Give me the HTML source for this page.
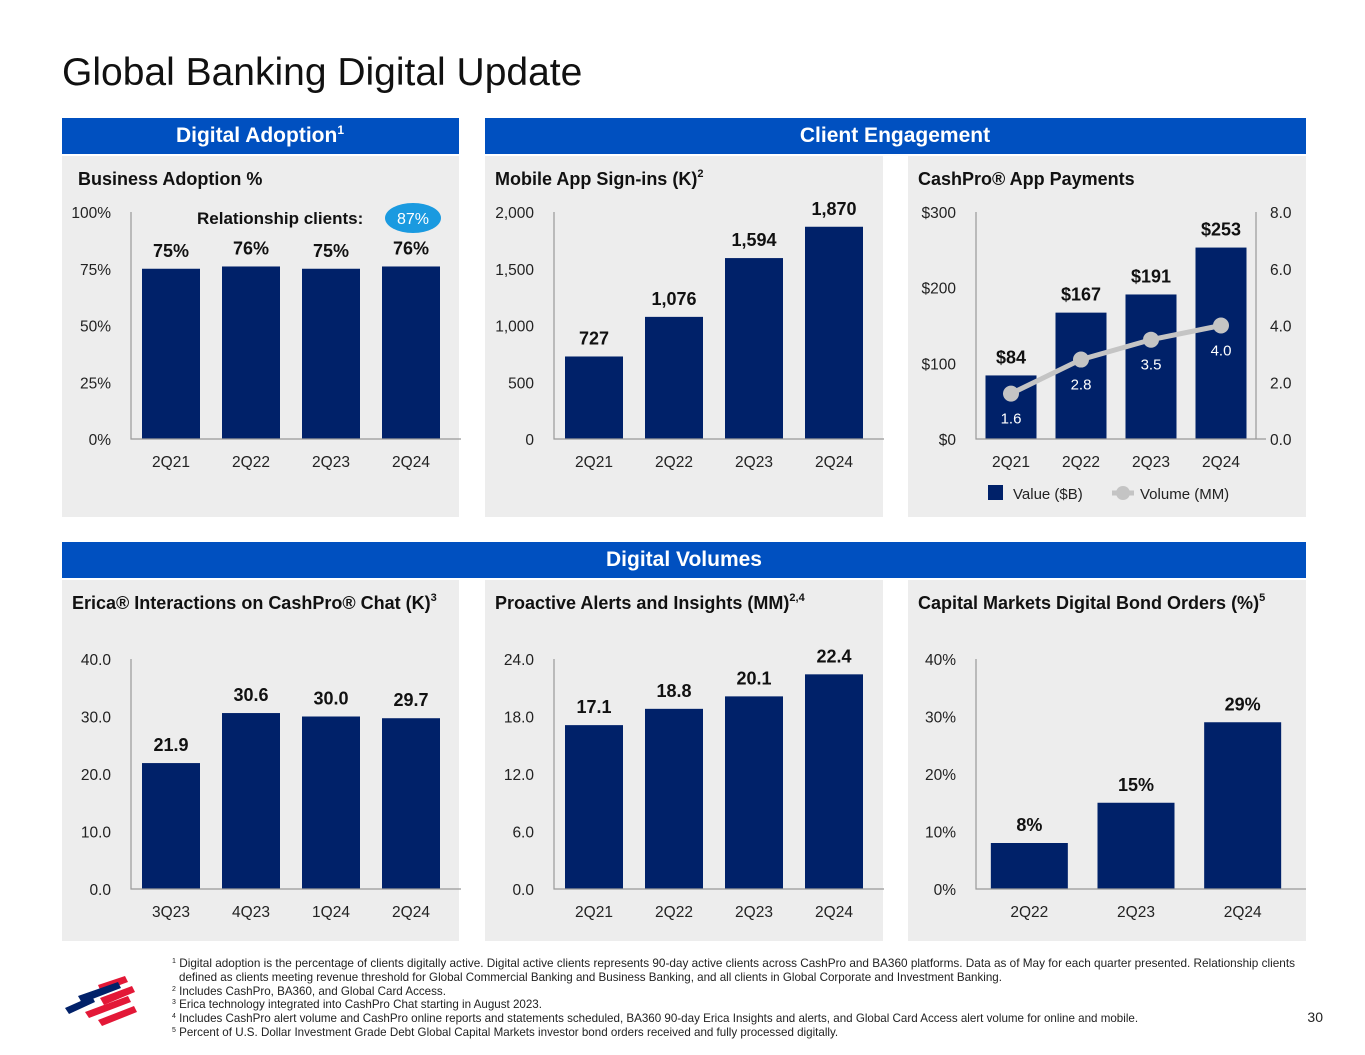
<!DOCTYPE html>
<html><head><meta charset="utf-8"><style>
html,body{margin:0;padding:0;background:#fff;}
svg{display:block;font-family:"Liberation Sans",sans-serif;}
</style></head><body>
<svg id="s" width="1365" height="1055" viewBox="0 0 1365 1055">
<text x="62" y="85" font-size="39" fill="#111">Global Banking Digital Update</text>
<rect x="62" y="118" width="397" height="36" fill="#0050c0"/>
<text x="260" y="142" font-size="21" font-weight="bold" fill="#fff" text-anchor="middle">Digital Adoption<tspan font-size="12" dy="-8">1</tspan></text>
<rect x="485" y="118" width="821" height="36" fill="#0050c0"/>
<text x="895" y="142" font-size="21" font-weight="bold" fill="#fff" text-anchor="middle">Client Engagement</text>
<rect x="62" y="542" width="1244" height="36" fill="#0050c0"/>
<text x="684" y="566" font-size="21" font-weight="bold" fill="#fff" text-anchor="middle">Digital Volumes</text>
<rect x="62" y="156" width="397" height="361" fill="#ededed"/>
<rect x="485" y="156" width="398" height="361" fill="#ededed"/>
<rect x="908" y="156" width="398" height="361" fill="#ededed"/>
<rect x="62" y="580" width="397" height="361" fill="#ededed"/>
<rect x="485" y="580" width="398" height="361" fill="#ededed"/>
<rect x="908" y="580" width="398" height="361" fill="#ededed"/>
<g font-size="18" font-weight="bold" fill="#111">
<text x="78" y="185">Business Adoption %</text>
<text x="495" y="185">Mobile App Sign-ins (K)<tspan font-size="11" dy="-8">2</tspan></text>
<text x="918" y="185">CashPro® App Payments</text>
<text x="72" y="609">Erica® Interactions on CashPro® Chat (K)<tspan font-size="11" dy="-8">3</tspan></text>
<text x="495" y="609">Proactive Alerts and Insights (MM)<tspan font-size="11" dy="-8">2,4</tspan></text>
<text x="918" y="609">Capital Markets Digital Bond Orders (%)<tspan font-size="11" dy="-8">5</tspan></text>
</g>
<text x="197" y="224" font-size="17" font-weight="bold" fill="#111">Relationship clients:</text>
<ellipse cx="413" cy="218" rx="28" ry="15" fill="#1a9ae0"/>
<text x="413" y="224" font-size="16" fill="#fff" text-anchor="middle">87%</text>
<g id="charts"></g>
<rect x="988" y="485" width="15" height="15" fill="#002169"/>
<text x="1013" y="499" font-size="15" fill="#222">Value ($B)</text>
<line x1="1112" y1="493" x2="1134" y2="493" stroke="#c4c4c4" stroke-width="5"/>
<circle cx="1123" cy="493" r="7" fill="#c4c4c4"/>
<text x="1140" y="499" font-size="15" fill="#222">Volume (MM)</text>
<g>
<path d="M98 985 L125 976 L128 982 L101 992Z" fill="#e31837"/>
<path d="M78 996 L118 982 L121 988 L82 1003Z" fill="#012169"/>
<path d="M65 1008 L92 996 L95 1002 L69 1014Z" fill="#012169"/>
<path d="M100 998 L132 986 L135 992 L104 1005Z" fill="#e31837"/>
<path d="M85 1012 L128 996 L131 1002 L89 1018Z" fill="#e31837"/>
<path d="M98 1020 L134 1006 L137 1012 L102 1026Z" fill="#e31837"/>
</g>
<g font-size="11.6" fill="#222">
<text x="172" y="967" textLength="1123" lengthAdjust="spacingAndGlyphs"><tspan font-size="7" dy="-4">1</tspan><tspan dy="4"> Digital adoption is the percentage of clients digitally active. Digital active clients represents 90-day active clients across CashPro and BA360 platforms. Data as of May for each quarter presented. Relationship clients</tspan></text>
<text x="179" y="981">defined as clients meeting revenue threshold for Global Commercial Banking and Business Banking, and all clients in Global Corporate and Investment Banking.</text>
<text x="172" y="995"><tspan font-size="7" dy="-4">2</tspan><tspan dy="4"> Includes CashPro, BA360, and Global Card Access.</tspan></text>
<text x="172" y="1008"><tspan font-size="7" dy="-4">3</tspan><tspan dy="4"> Erica technology integrated into CashPro Chat starting in August 2023.</tspan></text>
<text x="172" y="1022"><tspan font-size="7" dy="-4">4</tspan><tspan dy="4"> Includes CashPro alert volume and CashPro online reports and statements scheduled, BA360 90-day Erica Insights and alerts, and Global Card Access alert volume for online and mobile.</tspan></text>
<text x="172" y="1036"><tspan font-size="7" dy="-4">5</tspan><tspan dy="4"> Percent of U.S. Dollar Investment Grade Debt Global Capital Markets investor bond orders received and fully processed digitally.</tspan></text>
</g>
<text x="1323" y="1022" font-size="14" fill="#222" text-anchor="end">30</text>
</svg>
<script>
const adoptCats = ["2Q21","2Q22","2Q23","2Q24"];
const adoptVals = [75,76,75,76];
const adoptLabels = ["75%","76%","75%","76%"];
const adoptTicks = ["0%","25%","50%","75%","100%"];
const signCats = ["2Q21","2Q22","2Q23","2Q24"];
const signVals = [727,1076,1594,1870];
const signLabels = ["727","1,076","1,594","1,870"];
const signTicks = ["0","500","1,000","1,500","2,000"];
const payCats = ["2Q21","2Q22","2Q23","2Q24"];
const payVals = [84,167,191,253];
const payLabels = ["$84","$167","$191","$253"];
const payTicks = ["$0","$100","$200","$300"];
const volVals = [1.6,2.8,3.5,4.0];
const volLabels = ["1.6","2.8","3.5","4.0"];
const volTicks = ["0.0","2.0","4.0","6.0","8.0"];
const ericaCats = ["3Q23","4Q23","1Q24","2Q24"];
const ericaVals = [21.9,30.6,30.0,29.7];
const ericaLabels = ["21.9","30.6","30.0","29.7"];
const ericaTicks = ["0.0","10.0","20.0","30.0","40.0"];
const alertCats = ["2Q21","2Q22","2Q23","2Q24"];
const alertVals = [17.1,18.8,20.1,22.4];
const alertLabels = ["17.1","18.8","20.1","22.4"];
const alertTicks = ["0.0","6.0","12.0","18.0","24.0"];
const bondCats = ["2Q22","2Q23","2Q24"];
const bondVals = [8,15,29];
const bondLabels = ["8%","15%","29%"];
const bondTicks = ["0%","10%","20%","30%","40%"];

const NS="http://www.w3.org/2000/svg";
const G=document.getElementById('charts');
function mk(tag,attrs,txt){const e=document.createElementNS(NS,tag);for(const k in attrs)e.setAttribute(k,attrs[k]);if(txt!==undefined)e.textContent=txt;G.appendChild(e);return e;}

function chart(c){
  const yS=v=>c.y0-(v-c.min)/(c.max-c.min)*(c.y0-c.y1);
  const step=(c.xEnd-c.x0)/c.cats.length;
  const xC=i=>c.x0+step*(i+0.5);
  c.ticks.forEach((t,i)=>{
    const v=c.min+(c.max-c.min)*i/(c.ticks.length-1);
    const e=mk('text',{x:c.x0-20,y:yS(v)+6,'font-size':15.5,fill:'#222','text-anchor':'end'},t);
    
    
  });
  c.vals.forEach((v,i)=>{
    const b=mk('rect',{x:xC(i)-c.bw/2,y:yS(v),width:c.bw,height:c.y0-yS(v),fill:'#002169'});
    
    
    const l=mk('text',{x:xC(i),y:yS(v)-12,'font-size':18,'font-weight':'bold',fill:'#111','text-anchor':'middle'},c.labels[i]);
    
    
    const x=mk('text',{x:xC(i),y:c.y0+28,'font-size':15.5,fill:'#222','text-anchor':'middle'},c.cats[i]);
    
    
  });
  const a=mk('path',{d:`M${c.x0} ${c.y1} V${c.y0} H${c.xEnd+10}`,stroke:'#999',fill:'none','stroke-width':1.2});
  
  
  return {yS,xC};
}
chart({id:'adoption',cats:adoptCats,vals:adoptVals,labels:adoptLabels,ticks:adoptTicks,min:0,max:100,x0:131,xEnd:451,y0:439,y1:212,bw:58});
chart({id:'signins',cats:signCats,vals:signVals,labels:signLabels,ticks:signTicks,min:0,max:2000,x0:554,xEnd:874,y0:439,y1:212,bw:58});
const p=chart({id:'payments',cats:payCats,vals:payVals,labels:payLabels,ticks:payTicks,min:0,max:300,x0:976,xEnd:1256,y0:439,y1:212,bw:51});
chart({id:'erica',cats:ericaCats,vals:ericaVals,labels:ericaLabels,ticks:ericaTicks,min:0,max:40,x0:131,xEnd:451,y0:889,y1:659,bw:58});
chart({id:'alerts',cats:alertCats,vals:alertVals,labels:alertLabels,ticks:alertTicks,min:0,max:24,x0:554,xEnd:874,y0:889,y1:659,bw:58});
chart({id:'bonds',cats:bondCats,vals:bondVals,labels:bondLabels,ticks:bondTicks,min:0,max:40,x0:976,xEnd:1296,y0:889,y1:659,bw:77});
const ra=mk('line',{x1:1256,y1:212,x2:1256,y2:439,stroke:'#999','stroke-width':1.2});


const yV=v=>439-v/8*227;
volTicks.forEach((t,i)=>{
  const e=mk('text',{x:1270,y:yV(8*i/(volTicks.length-1))+6,'font-size':15.5,fill:'#222'},t);
  
  
});
const pts=volVals.map((v,i)=>[p.xC(i),yV(v)]);
const ln=mk('polyline',{points:pts.map(q=>q.join(',')).join(' '),fill:'none',stroke:'#c4c4c4','stroke-width':5});


pts.forEach((q,i)=>{
  const c=mk('circle',{cx:q[0],cy:q[1],r:8,fill:'#c4c4c4'});
  
  
  const t=mk('text',{x:q[0],y:q[1]+30,'font-size':15,fill:'#fff','text-anchor':'middle'},volLabels[i]);
  
  
});
</script>
</body></html>
